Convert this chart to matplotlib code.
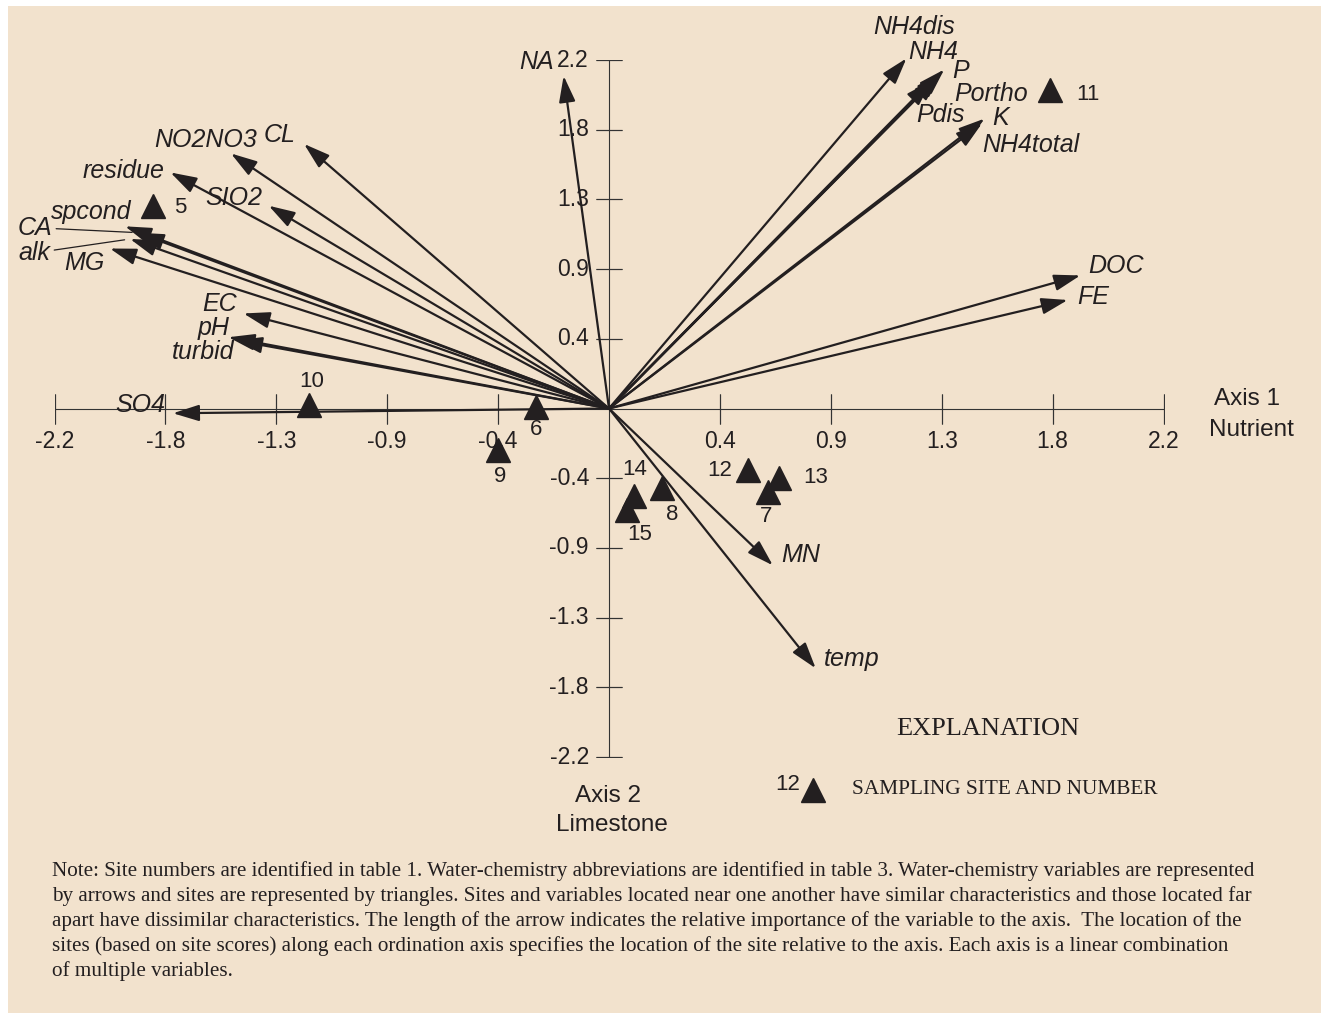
import matplotlib
matplotlib.use("Agg")
import matplotlib.pyplot as plt
from matplotlib.patches import Rectangle
from matplotlib.lines import Line2D

INK = "#231f20"
BG = "#f2e2cd"
SANS = ["Liberation Sans", "DejaVu Sans"]
SERIF = ["Liberation Serif", "DejaVu Serif"]

# water-chemistry variable arrows (axis 1, axis 2)
variables = ["NA", "CL", "NO2NO3", "residue", "SIO2", "spcond", "CA", "alk", "MG",
             "EC", "pH", "turbid", "SO4", "NH4dis", "NH4", "P", "Portho", "Pdis",
             "K", "NH4total", "DOC", "FE", "MN", "temp"]
var_ax1 = [-0.18, -1.21, -1.50, -1.74, -1.35, -1.92, -1.87, -1.90, -1.98,
           -1.45, -1.51, -1.48, -1.73, 1.18, 1.33, 1.32, 1.31, 1.28,
           1.49, 1.48, 1.87, 1.82, 0.65, 0.82]
var_ax2 = [2.10, 1.67, 1.61, 1.49, 1.28, 1.15, 1.11, 1.07, 1.01,
           0.60, 0.45, 0.43, -0.03, 2.21, 2.14, 2.12, 2.10, 2.07,
           1.83, 1.80, 0.84, 0.685, -0.99, -1.64]

# sampling-site scores
sites = ["5", "10", "6", "9", "14", "15", "8", "12", "13", "7", "11"]
site_ax1 = [-1.81, -1.19, -0.29, -0.44, 0.10, 0.07, 0.21, 0.55, 0.675, 0.63, 1.75]
site_ax2 = [1.28, 0.02, 0.01, -0.26, -0.55, -0.64, -0.50, -0.39, -0.44, -0.53, 2.01]

tick_pos = [-2.2, -1.76, -1.32, -0.88, -0.44, 0.44, 0.88, 1.32, 1.76, 2.2]
tick_labels = ["-2.2", "-1.8", "-1.3", "-0.9", "-0.4", "0.4", "0.9", "1.3", "1.8", "2.2"]

# label placement, pixel offsets from the arrow tip / triangle
var_label_off = {
    "NA": (-27, 14), "CL": (-24, 9), "NO2NO3": (-25, 13), "residue": (-47, 1),
    "SIO2": (-35, 8), "spcond": (-34, 14), "CA": (-103, 5), "alk": (-96, -14),
    "MG": (-26, -14), "EC": (-24, 9), "pH": (-15, 9), "turbid": (-33, -12),
    "SO4": (-33, 8), "NH4dis": (8, 31), "NH4": (-11, 18), "P": (19, 2),
    "Portho": (52, -18), "Pdis": (9, -34), "K": (16, 1), "NH4total": (49, -22),
    "DOC": (36, 9), "FE": (25, 3), "MN": (28, 10), "temp": (36, 9),
}
site_label_off = {
    "5": (27, -2), "10": (3, 24), "6": (0, -23), "9": (2, -27), "14": (0, 26),
    "15": (13, -25), "8": (10, -27), "12": (-28, 0), "13": (37, 1), "7": (-2, -24),
    "11": (38, -4),
}

note_lines = [
    "Note: Site numbers are identified in table 1. Water-chemistry abbreviations are identified in table 3. Water-chemistry variables are represented",
    "by arrows and sites are represented by triangles. Sites and variables located near one another have similar characteristics and those located far",
    "apart have dissimilar characteristics. The length of the arrow indicates the relative importance of the variable to the axis.  The location of the",
    "sites (based on site scores) along each ordination axis specifies the location of the site relative to the axis. Each axis is a linear combination",
    "of multiple variables.",
]

W, H = 1325, 1013
fig = plt.figure(figsize=(W / 100, H / 100), dpi=100)
fig.patch.set_facecolor("white")
fig.add_artist(Rectangle((8 / W, 0), 1313 / W, 1007 / H, transform=fig.transFigure,
                         facecolor=BG, edgecolor="none", zorder=0))

ax = fig.add_axes([54.5 / W, (H - 757) / H, 1109 / W, 697 / H])
ax.set_xlim(-2.2, 2.2)
ax.set_ylim(-2.2, 2.2)
ax.axis("off")
ax.patch.set_alpha(0)

# axes through the origin with crossing ticks
ax.plot([-2.2, 2.2], [0, 0], color="#333333", lw=0.8, zorder=1)
ax.plot([0, 0], [-2.2, 2.2], color="#333333", lw=0.8, zorder=1)
for t, lab in zip(tick_pos, tick_labels):
    ax.add_line(Line2D([t, t], [0, 0], color="#333333", lw=0.8, marker="|",
                       markersize=22, markeredgewidth=0.8))
    ax.annotate(lab, xy=(t, 0), xytext=(0, -33), textcoords="offset pixels",
                ha="center", va="center", fontsize=16.5, family=SANS, color=INK)
    ax.add_line(Line2D([0, 0], [t, t], color="#333333", lw=0.8, marker="_",
                       markersize=19, markeredgewidth=0.8))
    ax.annotate(lab, xy=(0, t), xytext=(-20, 0), textcoords="offset pixels",
                ha="right", va="center", fontsize=16.5, family=SANS, color=INK)

ax.annotate("Axis 1", xy=(2.2, 0), xytext=(84, 10), textcoords="offset pixels",
            ha="center", va="center", fontsize=17.5, family=SANS, color=INK)
ax.annotate("Nutrient", xy=(2.2, 0), xytext=(88, -21), textcoords="offset pixels",
            ha="center", va="center", fontsize=17.5, family=SANS, color=INK)
ax.annotate("Axis 2", xy=(0, -2.2), xytext=(-1, -39), textcoords="offset pixels",
            ha="center", va="center", fontsize=17.5, family=SANS, color=INK)
ax.annotate("Limestone", xy=(0, -2.2), xytext=(3, -68), textcoords="offset pixels",
            ha="center", va="center", fontsize=17.5, family=SANS, color=INK)

# variable arrows
for name, vx, vy in zip(variables, var_ax1, var_ax2):
    ax.annotate("", xy=(vx, vy), xytext=(0, 0), annotation_clip=False,
                arrowprops=dict(arrowstyle="-|>,head_length=0.8,head_width=0.25",
                                mutation_scale=20, lw=1.6, color=INK,
                                shrinkA=0, shrinkB=0), zorder=3)
    dx, dy = var_label_off[name]
    props = None
    if name in ("CA", "alk"):
        props = dict(arrowstyle="-", lw=0.9, color=INK, shrinkA=1, shrinkB=4)
    ax.annotate(name, xy=(vx, vy), xytext=(dx, dy), textcoords="offset pixels",
                ha="center", va="center", fontsize=18, style="italic",
                family=SANS, color=INK, arrowprops=props, annotation_clip=False)

# sampling sites
ax.plot(site_ax1, site_ax2, linestyle="none", marker="^", markersize=17,
        color=INK, zorder=4, clip_on=False)
for s, sx, sy in zip(sites, site_ax1, site_ax2):
    dx, dy = site_label_off[s]
    ax.annotate(s, xy=(sx, sy), xytext=(dx, dy), textcoords="offset pixels",
                ha="center", va="center", fontsize=16, family=SANS, color=INK,
                annotation_clip=False)

# explanation
fig.text(988 / W, 1 - 729 / H, "EXPLANATION", ha="center", va="center",
         fontsize=19, family=SERIF, color=INK)
fig.add_artist(Line2D([813 / W], [1 - 790 / H], marker="^", markersize=17,
                      color=INK, transform=fig.transFigure))
fig.text(788 / W, 1 - 784 / H, "12", ha="center", va="center",
         fontsize=16, family=SANS, color=INK)
fig.text(852 / W, 1 - 789 / H, "SAMPLING SITE AND NUMBER", ha="left", va="center",
         fontsize=15.3, family=SERIF, color=INK)

for i, line in enumerate(note_lines):
    fig.text(52 / W, 1 - (871 + 25 * i) / H, line, ha="left", va="center",
             fontsize=15.2, family=SERIF, color=INK)

fig.savefig("out.png", dpi=100, facecolor=fig.get_facecolor())
